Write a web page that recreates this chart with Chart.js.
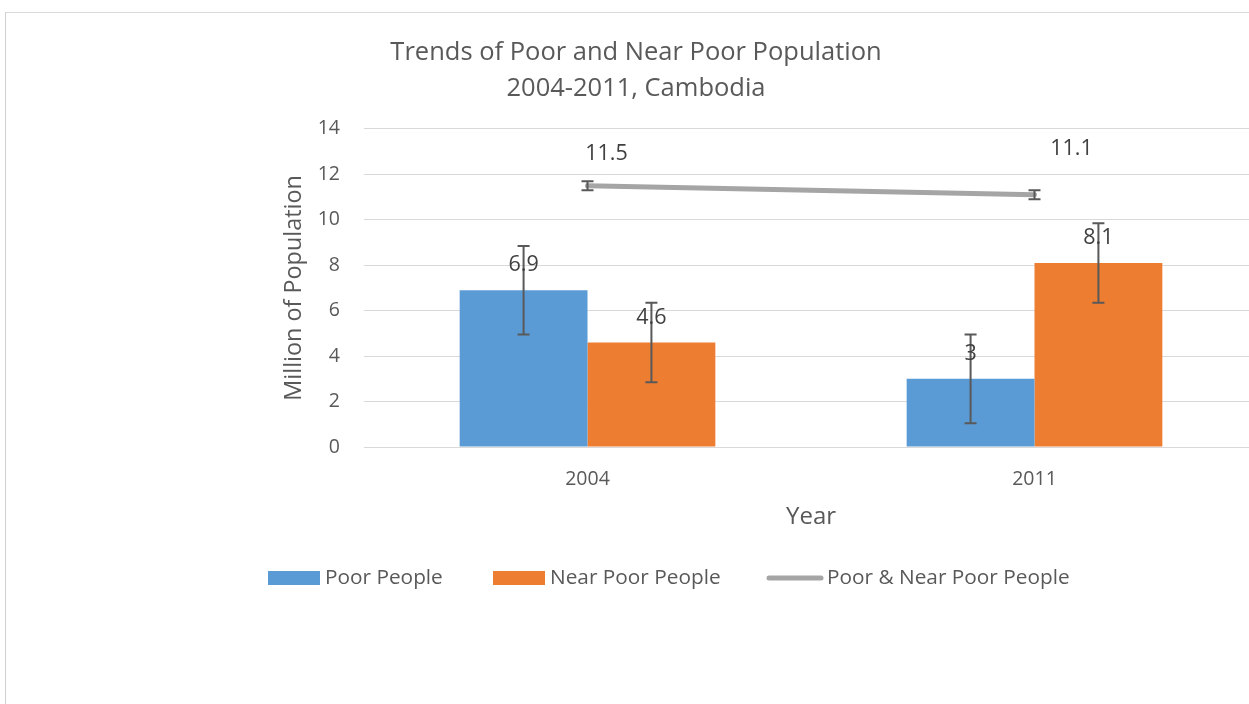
<!DOCTYPE html>
<html>
<head>
<meta charset="utf-8">
<script src="https://cdn.jsdelivr.net/npm/chart.js@4.4.1/dist/chart.umd.min.js"></script>
<style>
  html, body { margin: 0; padding: 0; background: #fff; overflow: hidden; width: 1249px; height: 704px; }
  #frame { position: absolute; left: 5px; top: 12px; width: 1300px; height: 800px; border-left: 1px solid #d0d0d0; border-top: 1px solid #d9d9d9; }
  #wrap { position: absolute; left: 0; top: 0; width: 1272px; height: 704px; }
</style>
</head>
<body>
<div id="frame"></div>
<div id="wrap"><canvas id="c" width="1272" height="704"></canvas></div>
<script>
const categories = ['2004', '2011'];
const poorPeople = [6.9, 3];
const nearPoorPeople = [4.6, 8.1];
const totalPeople = [11.5, 11.1];
const poorErr = [1.95, 1.95];
const nearPoorErr = [1.75, 1.75];
const totalErr = [0.2, 0.2];
const yTicks = [0, 2, 4, 6, 8, 10, 12, 14];

const FONT = "'Open Sans', sans-serif";
const TXT = '#595959';

const errorBars = {
  id: 'errorBars',
  afterDatasetsDraw(chart) {
    const ctx = chart.ctx, y = chart.scales.y;
    chart.data.datasets.forEach((ds, di) => {
      if (!ds.errors) return;
      const meta = chart.getDatasetMeta(di);
      meta.data.forEach((el, i) => {
        const v = ds.data[i], e = ds.errors[i];
        const x = el.x;
        const yt = y.getPixelForValue(v + e), yb = y.getPixelForValue(v - e);
        ctx.save();
        ctx.strokeStyle = '#595959';
        ctx.lineWidth = 2;
        ctx.beginPath();
        ctx.moveTo(x, yt); ctx.lineTo(x, yb);
        ctx.moveTo(x - 6, yt); ctx.lineTo(x + 6, yt);
        ctx.moveTo(x - 6, yb); ctx.lineTo(x + 6, yb);
        ctx.stroke();
        ctx.restore();
      });
    });
  }
};

const valueLabels = {
  id: 'valueLabels',
  afterDraw(chart) {
    const ctx = chart.ctx, y = chart.scales.y;
    ctx.save();
    ctx.font = "21.5px " + FONT;
    ctx.fillStyle = '#404040';
    ctx.textAlign = 'center';
    ctx.textBaseline = 'middle';
    chart.data.datasets.forEach((ds, di) => {
      const meta = chart.getDatasetMeta(di);
      meta.data.forEach((el, i) => {
        const v = ds.data[i];
        const py = y.getPixelForValue(v);
        let dx = 0, dy = -25;
        if (ds.type === 'line') { dx = i === 0 ? 19 : 37; dy = i === 0 ? -32 : -46; }
        ctx.fillText(String(v), el.x + dx, py + dy);
      });
    });
    ctx.restore();
  }
};

const customLegend = {
  id: 'customLegend',
  afterDraw(chart) {
    const ctx = chart.ctx;
    const cy = 578;
    const starts = [268, 493, 767];
    ctx.save();
    ctx.font = "20.8px " + FONT;
    ctx.textBaseline = 'middle';
    chart.data.datasets.forEach((ds, di) => {
      const x0 = starts[di];
      if (ds.type === 'line') {
        ctx.strokeStyle = ds.borderColor;
        ctx.lineWidth = 5;
        ctx.lineCap = 'round';
        ctx.beginPath(); ctx.moveTo(x0 + 2, cy); ctx.lineTo(x0 + 54, cy); ctx.stroke();
      } else {
        ctx.fillStyle = ds.backgroundColor;
        ctx.fillRect(x0, cy - 7, 52, 14);
      }
      ctx.fillStyle = TXT;
      ctx.textAlign = 'left';
      ctx.fillText(ds.label, x0 + (ds.type === 'line' ? 60 : 57), cy);
    });
    ctx.restore();
  }
};

new Chart(document.getElementById('c'), {
  data: {
    labels: categories,
    datasets: [
      { type: 'bar', label: 'Poor People', data: poorPeople, errors: poorErr, backgroundColor: '#5B9BD5', order: 2,
        barPercentage: 1, categoryPercentage: 0.572 },
      { type: 'bar', label: 'Near Poor People', data: nearPoorPeople, errors: nearPoorErr, backgroundColor: '#ED7D31', order: 2,
        barPercentage: 1, categoryPercentage: 0.572 },
      { type: 'line', label: 'Poor & Near Poor People', data: totalPeople, errors: totalErr, borderColor: '#A5A5A5',
        backgroundColor: '#A5A5A5', borderWidth: 5, pointRadius: 0, order: 1, borderCapStyle: 'round' }
    ]
  },
  options: {
    responsive: false,
    animation: false,
    layout: { padding: { left: 14, right: 14, top: 0, bottom: 167 } },
    plugins: {
      legend: { display: false },
      tooltip: { enabled: false },
      title: {
        display: true,
        text: ['Trends of Poor and Near Poor Population', '2004-2011, Cambodia'],
        color: TXT,
        font: { family: FONT, size: 25.5, weight: 'normal', lineHeight: 1.41 },
        padding: { top: 35, bottom: 22 }
      }
    },
    scales: {
      x: {
        grid: { display: false, drawTicks: false },
        border: { display: false },
        ticks: { color: TXT, font: { family: FONT, size: 19.5 }, padding: 21 },
        title: { display: true, text: 'Year', color: TXT, font: { family: FONT, size: 24, lineHeight: 1.2 }, padding: { top: 0, bottom: 5 } },
        afterFit(s) { s.height = 90; }
      },
      y: {
        min: 0, max: 14,
        afterBuildTicks(s) { s.ticks = yTicks.map(v => ({ value: v })); },
        grid: { color: '#d9d9d9', lineWidth: 1, drawTicks: false },
        border: { display: false },
        ticks: { color: TXT, font: { family: FONT, size: 19.5 }, padding: 24 },
        title: { display: true, text: 'Million of Population', color: TXT, font: { family: FONT, size: 23.4, lineHeight: 1.2 }, padding: { top: 266, bottom: 0 } },
        afterFit(s) { s.width = 350; }
      }
    }
  },
  plugins: [errorBars, valueLabels, customLegend]
});
</script>
</body>
</html>
